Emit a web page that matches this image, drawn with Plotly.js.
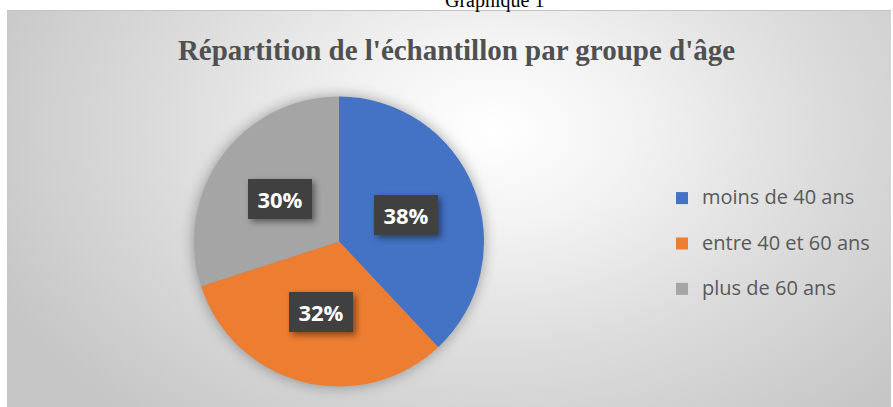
<!DOCTYPE html>
<html>
<head>
<meta charset="utf-8">
<script src="https://cdn.plot.ly/plotly-3.0.1.min.js"></script>
<style>
  html, body { margin: 0; padding: 0; background: #ffffff; }
  #wrap { position: relative; width: 893px; height: 407px; overflow: hidden; }
  #frame {
    position: absolute; left: 7px; top: 10px; width: 884px; height: 397px;
    background: radial-gradient(ellipse 62% 95% at 55% 30%, #ffffff 0%, #f3f3f3 25%, #dcdcdc 60%, #c6c6c6 100%);
    border-top: 1px solid #c4c4c4;
  }
  #chart { position: absolute; left: 0; top: 0; width: 893px; height: 407px; }
  .pielayer { filter: drop-shadow(0px 0px 7px rgba(0,0,0,0.35)); }
  .annotation .bg { filter: drop-shadow(3px 3px 3px rgba(0,0,0,0.45)); }
</style>
</head>
<body>
<div id="wrap">
  <div id="frame"></div>
  <div id="chart"></div>
</div>
<script>
// ---- data ----
const categories = ["moins de 40 ans", "entre 40 et 60 ans", "plus de 60 ans"];
const values = [38, 32, 30];
const colors = ["#4472C4", "#ED7D31", "#A5A5A5"];
const chartTitle = "Répartition de l'échantillon par groupe d'âge";
const captionText = "Graphique 1";

// ---- geometry of the pie (layout, px) ----
const W = 893, H = 407;
const cx = 339, cy = 241.5, R = 145;
const dom = {
  x: [(cx - R) / W, (cx + R) / W],
  y: [1 - (cy + R) / H, 1 - (cy - R) / H]
};

// legend labels: extra empty line for entry spacing
const legendLabels = categories.map(c => '<span style="font-size:20px">' + c + '</span><br>&nbsp;');

const total = values.reduce((a, b) => a + b, 0);
const annotations = [];
let cum = 0;
values.forEach((v, i) => {
  const frac = v / total;
  const mid = (cum + frac / 2) * 2 * Math.PI;
  cum += frac;
  const px = cx + 0.5 * R * Math.sin(mid);
  const py = cy - 0.5 * R * Math.cos(mid);
  annotations.push({
    x: px / W, y: 1 - py / H, xref: 'paper', yref: 'paper',
    xanchor: 'center', yanchor: 'middle', showarrow: false,
    text: Math.round(frac * 100) + '%',
    font: { family: 'Open Sans, sans-serif', size: 22, color: '#ffffff', weight: 'bold' },
    bgcolor: '#404040', width: 60, height: 36, borderpad: 2, borderwidth: 0
  });
});
annotations.push({
  x: 494 / W, y: 1, xref: 'paper', yref: 'paper', xanchor: 'center', yanchor: 'middle',
  yshift: 0, showarrow: false, text: captionText,
  font: { family: 'Liberation Serif, Times New Roman, serif', size: 20, color: '#000000' }
});

const trace = {
  type: 'pie',
  labels: legendLabels,
  values: values,
  sort: false,
  direction: 'clockwise',
  rotation: 0,
  textinfo: 'none',
  hoverinfo: 'skip',
  marker: { colors: colors, line: { width: 0 } },
  domain: dom
};

const layout = {
  width: W, height: H,
  margin: { l: 0, r: 0, t: 0, b: 0 },
  paper_bgcolor: 'rgba(0,0,0,0)',
  plot_bgcolor: 'rgba(0,0,0,0)',
  title: {
    text: chartTitle,
    x: 456.5 / W, xanchor: 'center', xref: 'paper',
    y: 1 - 50 / H, yanchor: 'middle', yref: 'paper',
    font: { family: 'Liberation Serif, Times New Roman, serif', size: 29, color: '#505050', weight: 'bold' }
  },
  showlegend: true,
  legend: {
    x: 662 / W, xanchor: 'left',
    y: 1 - 181 / H, yanchor: 'top',
    valign: 'top',
    bgcolor: 'rgba(0,0,0,0)',
    font: { family: 'Open Sans, sans-serif', size: 16.3, color: '#595959' }
  },
  annotations: annotations
};

Plotly.newPlot('chart', [trace], layout, { displayModeBar: false, staticPlot: true });
</script>
</body>
</html>
